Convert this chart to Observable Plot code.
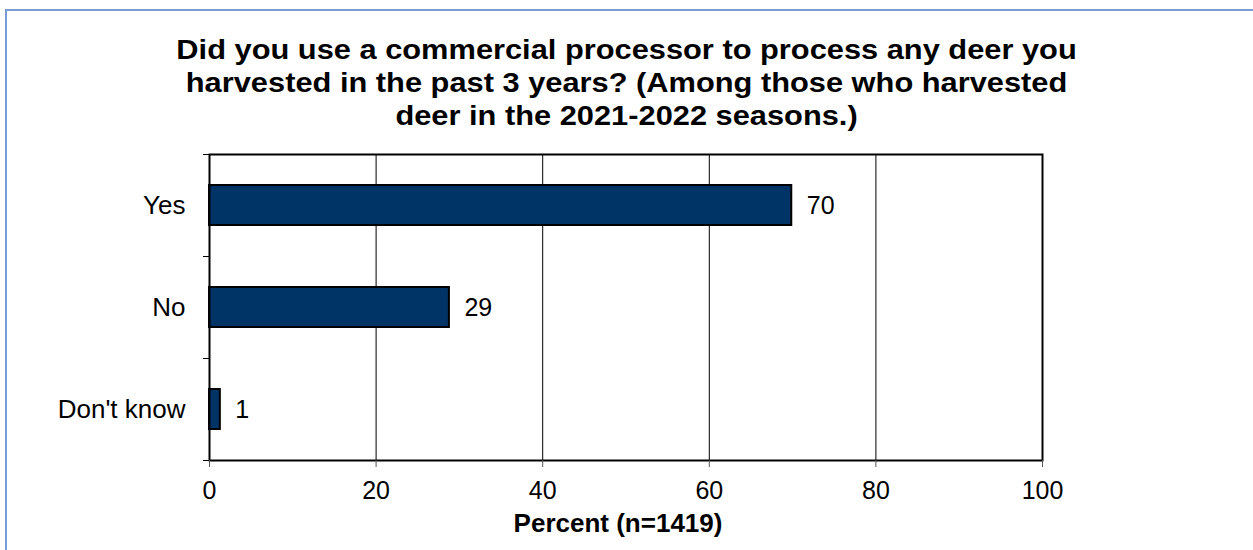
<!DOCTYPE html>
<html>
<head>
<meta charset="utf-8">
<script src="https://cdn.jsdelivr.net/npm/d3@7"></script>
<script src="https://cdn.jsdelivr.net/npm/@observablehq/plot@0.6"></script>
<style>
  html, body { margin: 0; padding: 0; background: #fff; }
  body { width: 1253px; height: 550px; overflow: hidden; position: relative; font-family: "Liberation Sans", Arial, sans-serif; }
  #border { position: absolute; left: 5px; top: 9px; width: 1400px; height: 700px; border-left: 2px solid #7b9bd3; border-top: 2px solid #7b9bd3; }
  #title { position: absolute; left: 0; top: 33px; width: 1253px; text-align: center; font-weight: bold; font-size: 28px; line-height: 33px; color: #000; transform: scaleX(1.1); transform-origin: 626px 0; }
  #chart { position: absolute; left: 0; top: 140px; }
</style>
</head>
<body>
<div id="border"></div>
<div id="title">Did you use a commercial processor to process any deer you<br>harvested in the past 3 years? (Among those who harvested<br>deer in the 2021-2022 seasons.)</div>
<div id="chart"></div>
<script>
const categories = ["Yes", "No", "Don't know"];
const values = [69.9, 28.8, 1.3];
const xTicks = [0, 20, 40, 60, 80, 100];
const xLabel = "Percent (n=1419)";

const data = categories.map((c, i) => ({category: c, index: i, value: values[i]}));
const half = 0.196;

const chart = Plot.plot({
  width: 1253,
  height: 410,
  marginLeft: 209,
  marginRight: 211,
  marginTop: 14,
  marginBottom: 90,
  style: {fontFamily: "'Liberation Sans', Arial, sans-serif", fontSize: "25px", color: "#000", background: "transparent"},
  x: {domain: [0, 100], axis: null},
  y: {domain: [0, categories.length], reverse: true, axis: null},
  marks: [
    Plot.ruleX(xTicks.slice(1, -1), {stroke: "#000", strokeWidth: 1}),
    Plot.rectX(data, {x1: 0, x2: "value", y1: d => d.index + 0.5 - half, y2: d => d.index + 0.5 + half, fill: "#003366", stroke: "#000", strokeWidth: 2}),
    Plot.text(data, {x: "value", y: d => d.index + 0.5, text: d => d3.format(".0f")(d.value), textAnchor: "start", dx: 15, fontSize: 25, fill: "#000"}),
    Plot.frame({stroke: "#000", strokeWidth: 2}),
    Plot.axisX({ticks: xTicks, tickSize: 7, tickPadding: 14, tickFormat: d => String(d), fontSize: 25, label: null, stroke: "#555"}),
    Plot.axisY({ticks: d3.range(categories.length + 1), tickSize: 6, tickFormat: () => "", label: null, stroke: "#000"}),
    Plot.axisY({ticks: categories.map((c, i) => i + 0.5), tickSize: 0, tickPadding: 24, tickFormat: v => categories[Math.floor(v)], fontSize: 26, label: null}),
    Plot.text([xLabel], {frameAnchor: "bottom", dy: 71, dx: -8, fontWeight: "bold", fontSize: 26, fill: "#000"})
  ]
});
document.getElementById("chart").appendChild(chart);
</script>
</body>
</html>
